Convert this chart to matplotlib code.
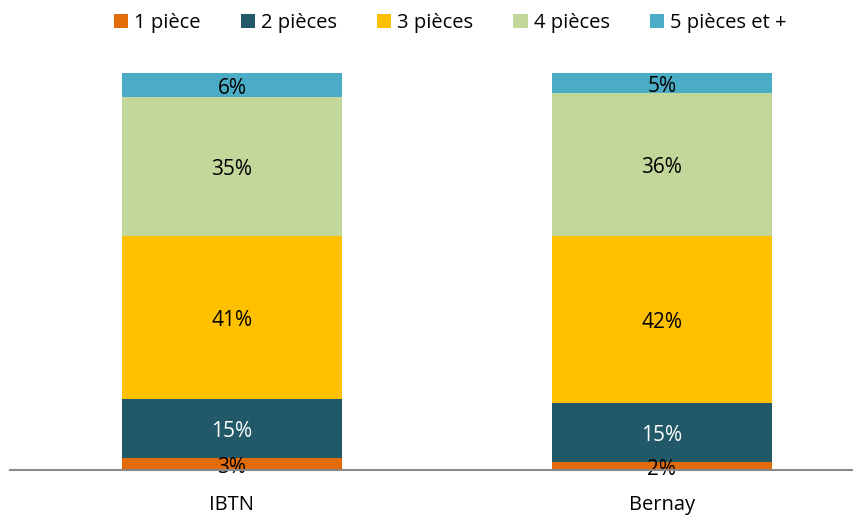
import matplotlib
matplotlib.use('Agg')
import matplotlib.pyplot as plt
import numpy as np

plt.rcParams['font.family'] = ['Open Sans', 'DejaVu Sans']

categories = ['IBTN', 'Bernay']
series_names = ['1 pièce', '2 pièces', '3 pièces', '4 pièces', '5 pièces et +']
values = {
    '1 pièce':       [3, 2],
    '2 pièces':      [15, 15],
    '3 pièces':      [41, 42],
    '4 pièces':      [35, 36],
    '5 pièces et +': [6, 5],
}
colors = ['#E36C0A', '#215968', '#FFC000', '#C4D79B', '#4BACC6']
label_colors = ['#000000', '#FFFFFF', '#000000', '#000000', '#000000']

fig = plt.figure(figsize=(8.54, 5.16), dpi=100)
ax = fig.add_axes([10 / 854, 46 / 516, 844 / 854, 397 / 516])

x = np.arange(len(categories))
bottom = np.zeros(len(categories))
handles = []
for name, col, lc in zip(series_names, colors, label_colors):
    vals = np.array(values[name], dtype=float)
    b = ax.bar(x, vals, 0.512, bottom=bottom, color=col, label=name, zorder=2)
    handles.append(b)
    for xi, v, bt in zip(x, vals, bottom):
        ax.text(xi, bt + v / 2 - 0.8, f'{int(v)}%', ha='center', va='center',
                fontsize=15, color=lc, zorder=3)
    bottom += vals

ax.set_xlim(-0.516, 1.4465)
ax.set_ylim(0, 100)
ax.set_yticks([])
ax.set_xticks(x)
ax.set_xticklabels(categories, fontsize=14.5)
ax.tick_params(axis='x', length=0, pad=18)
for s in ['top', 'right', 'left']:
    ax.spines[s].set_visible(False)
ax.spines['bottom'].set_color('#898989')
ax.spines['bottom'].set_linewidth(1.5)
ax.spines['bottom'].set_zorder(4)

fig.legend(handles=handles, labels=series_names, loc='center', ncol=5,
           bbox_to_anchor=(0.527, 1 - 23 / 516), frameon=False, fontsize=14.5,
           handlelength=0.7, handleheight=0.7, handletextpad=0.3, columnspacing=2.0)

fig.savefig('out.png', dpi=100)
